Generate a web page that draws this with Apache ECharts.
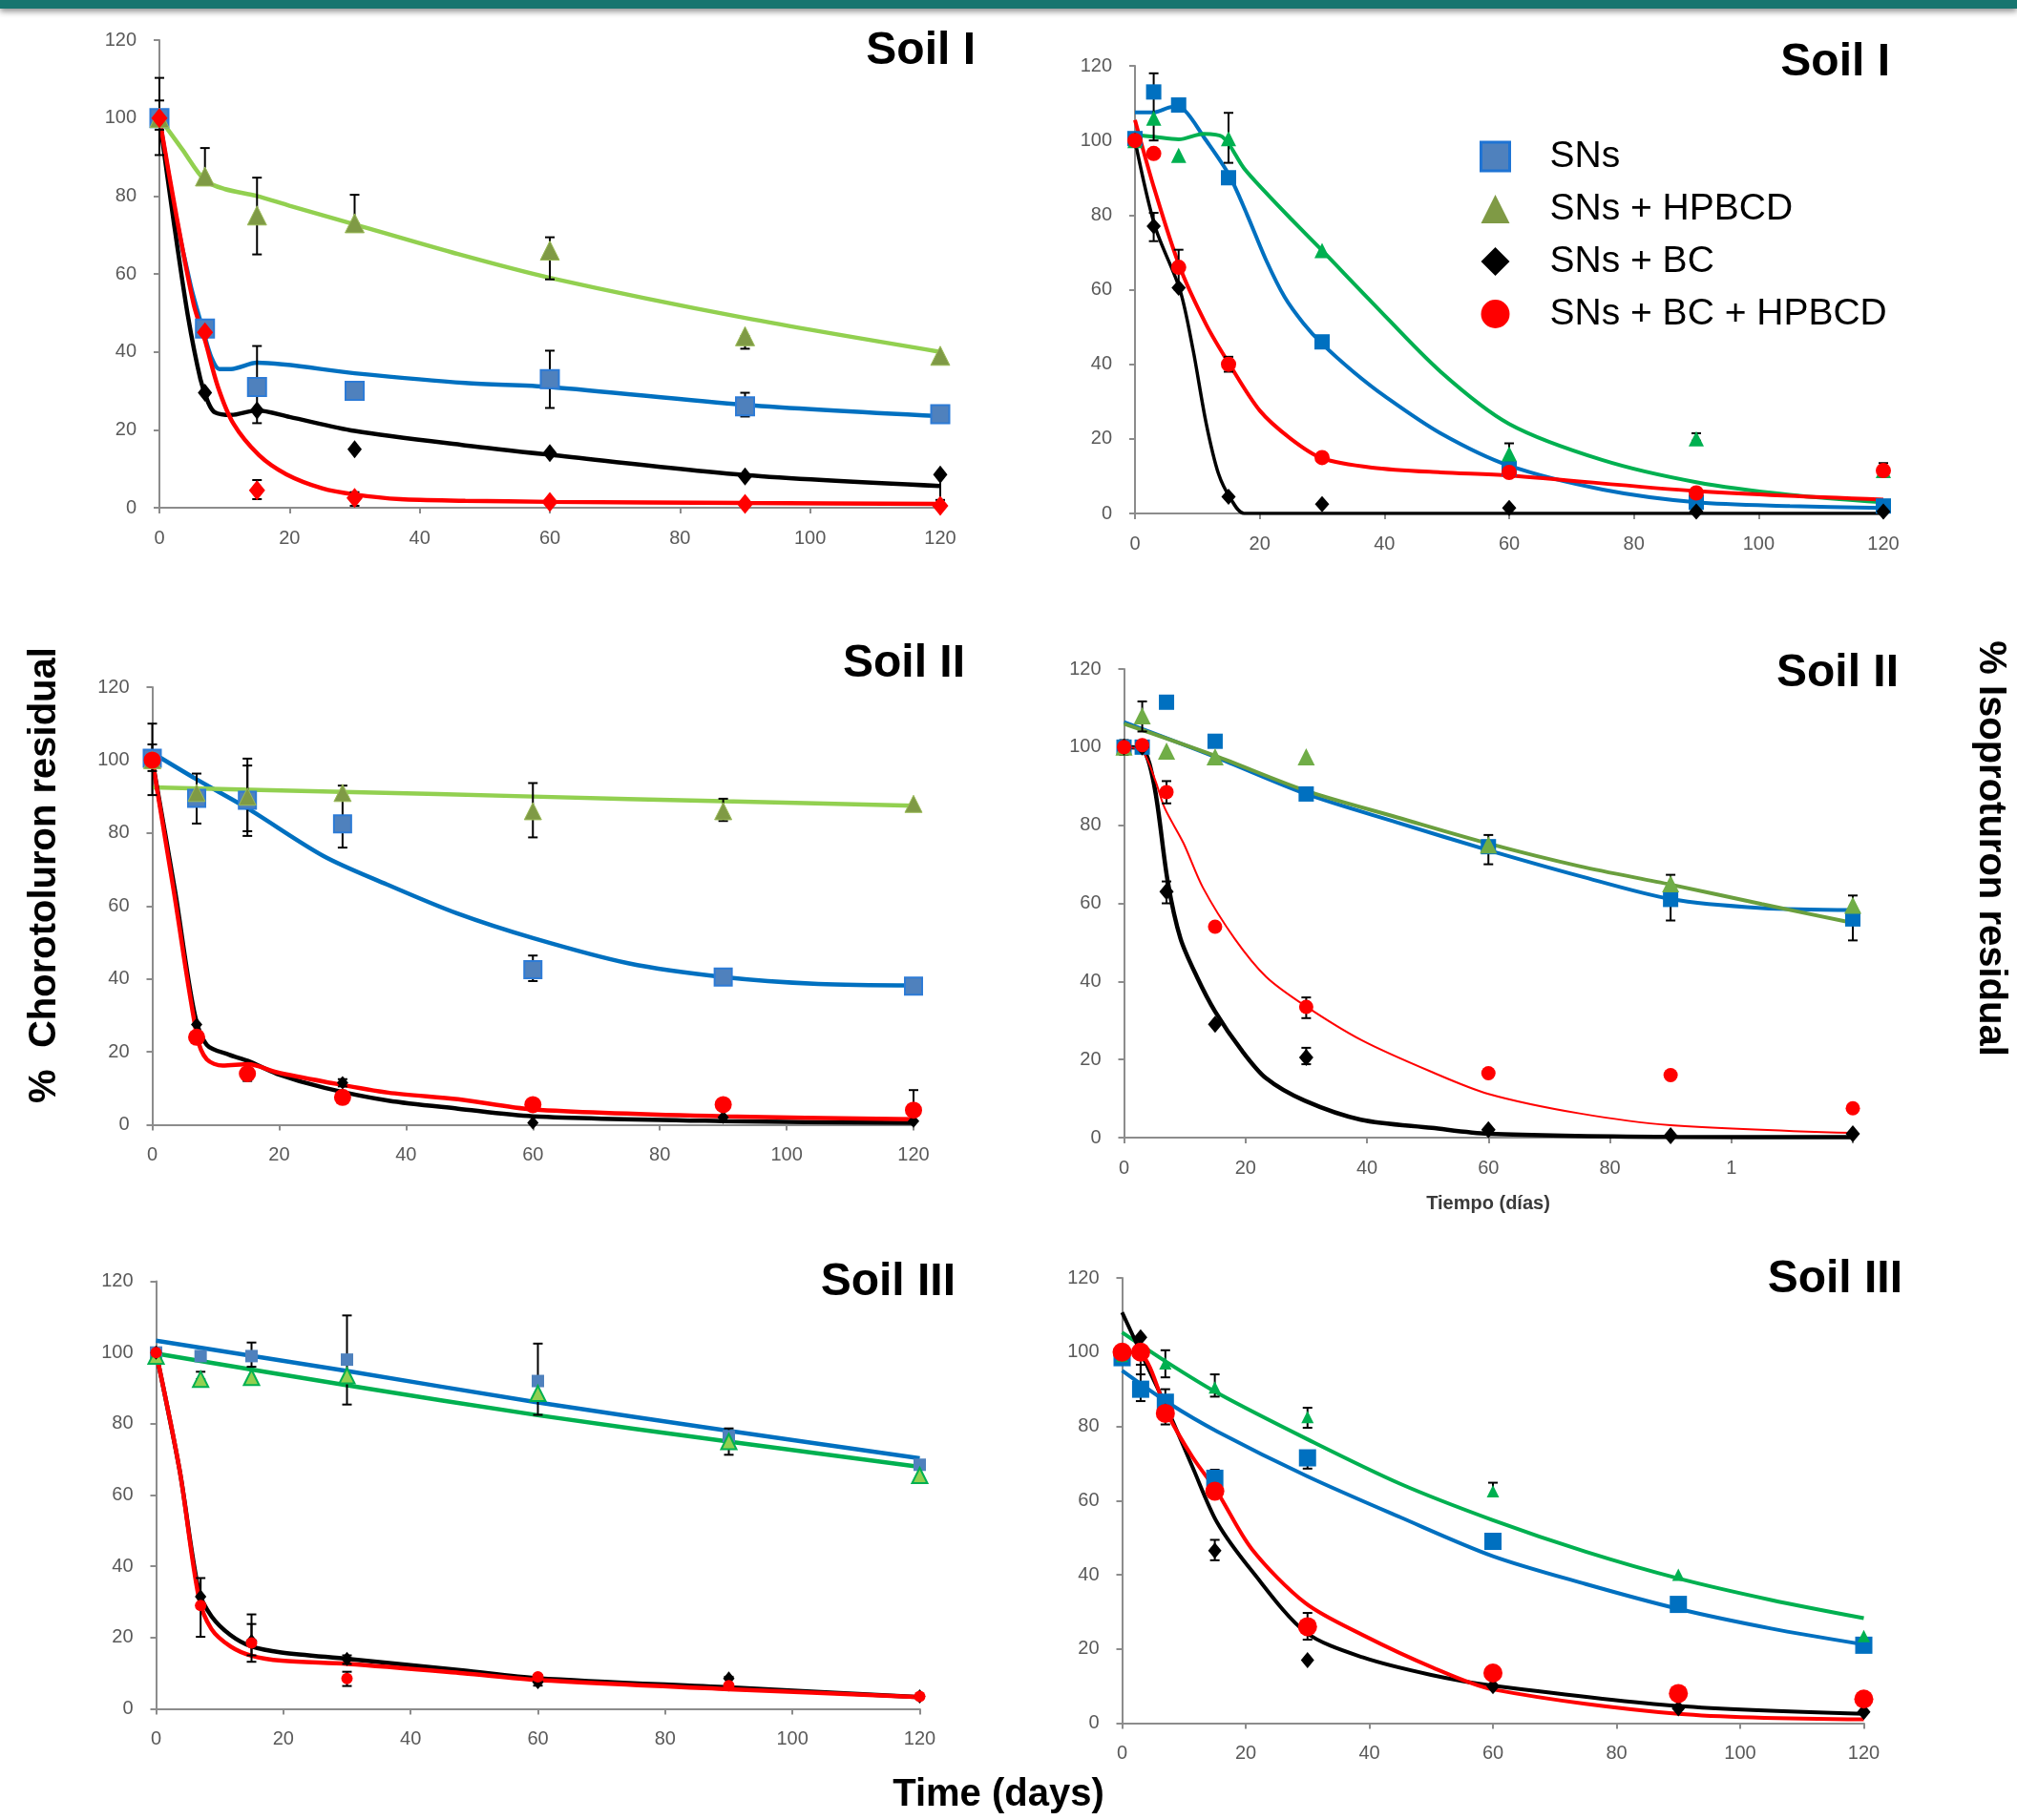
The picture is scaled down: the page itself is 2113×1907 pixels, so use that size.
<!DOCTYPE html>
<html>
<head>
<meta charset="utf-8">
<script src="https://cdn.jsdelivr.net/npm/echarts@6/dist/echarts.min.js"></script>
<style>
  html, body { margin: 0; padding: 0; background: #fff; }
  #chart { width: 2113px; height: 1907px; }
</style>
</head>
<body>
<div id="chart"></div>
<script>
// sampling days
const DAYS = [0, 7, 15, 30, 60, 90, 120];
const DAYS_ISO = [0, 3, 7, 15, 30, 60, 90, 120];

// ---- Chlorotoluron, Soil I ----
const cloI_sn   = [100, 46, 31, 30, 33, 26, 24];
const cloI_hp   = [100, 85, 75, 73, 66, 44, 39];
const cloI_bc   = [100, 29.5, 25, 15, 14, 8, 8.5];
const cloI_bchp = [100, 45, 4.5, 2.5, 1.5, 1, 0.5];
const cloI_snFit   = [[0,100],[2.4,76],[4.8,57],[6.8,45],[8,38.5],[9.2,35.6],[11,35.6],[15,37.2],[30,34.5],[47,32],[60,31],[90,26.4],[120,23.5]];
const cloI_hpFit   = [[0,100],[3.5,92],[7,84],[10,81.8],[15,80],[20,77.5],[30,72.7],[45,65.5],[60,59],[90,48.7],[120,40]];
const cloI_bcFit   = [[0,100],[2.15,74],[4.35,49.5],[6.3,33],[7.5,27],[8.5,24.5],[11,23.8],[15,25],[20,23.3],[30,19.7],[47,16],[60,13.6],[90,8.4],[120,5.6]];
const cloI_bchpFit = [[0,100],[2.6,75],[5.3,52],[7,43],[9,31],[11.4,21.5],[15.3,13.5],[19.5,8.6],[25,5],[30,3.4],[37,2.2],[47,1.8],[60,1.5],[90,1.2],[120,1]];
const cloI_err = [[0,90.5,110.3],[0,97,104.5],[7,85,92.3],[15,65,84.7],[15,21.7,41.5],[15,2.2,7.1],[30,73,80.3],[30,0.5,4],[60,58.6,69.4],[60,25.6,40.3],[90,40.8,44],[90,23.4,29.5],[120,2,8.4]];

// ---- Isoproturon, Soil I ----
const isoI_sn   = [100.5, 113, 109.5, 90, 46, 12, 3, 2];
const isoI_hp   = [100, 106, 96, 100.5, 70.5, 16, 20, 11.5];
const isoI_bc   = [100, 77, 60.5, 4.5, 2.5, 1.5, 0.5, 0.5];
const isoI_bchp = [100, 96.5, 66, 40, 15, 11, 5.5, 11.5];
const isoI_snFit   = [[0,107.5],[3,107.5],[6,109],[8,108],[11,101],[15,91],[18,80],[21,68],[24,58],[27,51],[30,45.5],[35,38],[40,31.5],[49,21.5],[60,12.8],[75,6.4],[90,3],[105,2],[120,1.5]];
const isoI_hpFit   = [[0,101.5],[3,101],[7,100.3],[11,101.8],[14,101],[17.5,92.5],[21,86],[25,79],[30,70.5],[38,56.6],[49,38],[60,24],[75,14.3],[90,8.4],[105,5],[120,3]];
const isoI_bcFit   = [[0,100],[3.2,77],[7.2,60],[9.3,44],[11.4,24.3],[13.4,10.6],[15.4,3.8],[17.5,0],[30,0],[60,0],[90,0],[120,0]];
const isoI_bchpFit = [[0,105.5],[3.2,86.5],[7.2,66],[11.4,50.7],[15,40.4],[20,27.6],[25,20],[30,14.8],[38,12.3],[49,11],[60,10.2],[90,6],[120,3.7]];
const isoI_err = [[3,100,118],[3,73,80.6],[7,60,70.7],[15,94,107.4],[15,38,42],[60,14,18.8],[90,19.5,21.5],[120,11,13.5]];

// ---- Chlorotoluron, Soil II ----
const cloII_sn   = [100.5, 89.5, 89, 82.5, 42.5, 40.5, 38];
const cloII_hp   = [100, 91, 90, 91, 86, 86, 88];
const cloII_bc   = [100, 27.5, 14, 11.5, 0.5, 2, 1];
const cloII_bchp = [100, 24, 14, 7.5, 5.5, 5.5, 4];
const cloII_snFit   = [[0,102],[7,94.7],[15,86.8],[27,73.7],[37,65.9],[48,58],[60,51.2],[75,44.3],[90,40.5],[105,38.6],[120,38.2]];
const cloII_hpFit   = [[0,92.5],[30,91.3],[60,90],[90,88.7],[120,87.5]];
const cloII_bcFit   = [[0,100],[3.6,64],[6.6,31],[8.6,21.9],[12.1,19.2],[15.1,17.5],[19.6,14],[27.2,10.1],[37.2,6.6],[48.2,4.4],[60,2.3],[90,1],[120,0.5]];
const cloII_bchpFit = [[0,100],[3.4,64],[7.1,24],[8.6,17.9],[11.1,16.2],[15.1,16.6],[19.6,14.4],[27.2,11.8],[37.2,8.8],[48.2,7],[60,4.2],[90,2.3],[120,1.5]];
const cloII_err = [[0,90.4,110],[0,97,104.3],[7,82.6,96.3],[15,79.2,100.4],[15,80.5,98.5],[30,76,93],[60,78.8,93.7],[60,39.4,46.4],[90,83.3,89.4],[120,1,9.5],[15,12,15.5],[30,10.5,12.5]];

// ---- Isoproturon, Soil II ----
const isoII_sn   = [100, 100, 111.5, 101.5, 88, 74.5, 61, 56];
const isoII_hp   = [100, 108, 99, 97.5, 97.5, 75, 65, 59.5];
const isoII_bc   = [100, 100, 63, 29, 20.5, 2, 0.5, 1];
const isoII_bchp = [100, 100.5, 88.5, 54, 33.5, 16.5, 16, 7.5];
const isoII_snFit   = [[0,106.4],[15,97.5],[30,88],[45,80.7],[60,73.6],[75,67],[90,61.1],[105,58.8],[120,58.3]];
const isoII_hpFit   = [[0,106],[15,97.8],[30,88.8],[45,82],[60,75.3],[75,69.5],[90,64.8],[105,59.8],[120,55]];
const isoII_bcFit   = [[0,100],[3,99.5],[5,90],[7.2,65.6],[9.3,51],[12,41.2],[15,32.3],[19.3,22.5],[23.4,15.2],[29.7,9.5],[39,4.6],[50.7,2.5],[60,1],[90,0.2],[120,0.1]];
const isoII_bchpFit = [[0,100],[3,99],[5.1,91.7],[6.7,84.4],[9.8,75.4],[13,64],[18.2,51],[23.4,41.2],[29.7,33.9],[39.2,24.9],[50.7,16.8],[60,11.2],[75,6.2],[90,3.2],[120,1.2]];
const isoII_err = [[0,98,101.8],[3,104,111.7],[7,60,65.6],[7,85.6,91.3],[15,100.4,103],[30,30.6,35.9],[30,18.8,23],[60,70,77.5],[90,55.6,67.3],[120,50.5,62]];

// ---- Chlorotoluron, Soil III ----
const cloIII_sn   = [100, 99, 99, 98, 92, 76.5, 68.5];
const cloIII_hp   = [99, 92.5, 93, 93.5, 88.5, 75, 65.5];
const cloIII_bc   = [100, 31.5, 19, 14, 7.5, 8.5, 3.5];
const cloIII_bchp = [100, 29, 18.5, 8.5, 9, 6.5, 3.5];
const cloIII_snFit   = [[0,103.3],[30,94.8],[60,86],[90,78],[120,70.3]];
const cloIII_hpFit   = [[0,99.7],[30,90.8],[60,82.4],[90,75],[120,67.9]];
const cloIII_bcFit   = [[0,100],[3.7,67],[6.7,33.2],[8.7,26],[11.7,20.7],[15,17.5],[19.7,15.8],[30.2,14],[48.2,10.8],[60,8.6],[90,6],[120,3.3]];
const cloIII_bchpFit = [[0,100],[3.7,67],[6.7,31.4],[8.7,22.4],[11.7,17.5],[15,14.9],[19.7,13.5],[30.2,12.6],[48.2,10],[60,8.1],[90,5.5],[120,3.3]];
const cloIII_err = [[7,20.2,36.7],[7,92.5,94.6],[15,13.2,26.5],[15,15,23.8],[15,96,102.8],[30,85.4,110.4],[30,12.6,15],[30,6.4,10.4],[60,82.5,102.5],[60,6.5,9.5],[90,71.3,78.7],[90,6,9]];

// ---- Isoproturon, Soil III ----
const isoIII_sn   = [98.5, 90, 86.5, 66, 71.5, 49, 32, 21];
const isoIII_hp   = [99, 100, 97, 90.5, 82.5, 62.5, 40, 23.5];
const isoIII_bc   = [100, 104, 84, 46.5, 17, 10, 4, 3];
const isoIII_bchp = [100, 100, 83.5, 62.5, 26, 13.5, 8, 6.5];
const isoIII_snFit   = [[0,95],[7.5,86.3],[15.4,78.6],[30,66.5],[45,55.5],[60,45],[75,37.5],[90,30.8],[105,25.5],[120,21.2]];
const isoIII_hpFit   = [[0,105.3],[7.5,97],[15.4,89],[30,76.5],[45,64.5],[60,54.7],[75,46.2],[90,39],[105,33.2],[120,28.3]];
const isoIII_bcFit   = [[0,110.7],[3,100],[7.5,84],[11.4,69],[15.4,54],[21,41],[29.7,24.5],[39,17.7],[50,13],[60,10.1],[90,4.6],[120,2.5]];
const isoIII_bchpFit = [[0,100],[3,99.5],[7.5,82.9],[11.4,71.7],[15.4,62.3],[21,46.9],[29.7,32.3],[39,23.7],[50.1,15.1],[60,9.1],[90,2.5],[120,1]];
const isoIII_err = [[3,86.8,96.6],[3,94,104],[7,93.2,100.5],[7,83.5,90],[7,80.5,86],[15,61,68.3],[15,43.9,49.4],[15,88,94],[30,68.6,73.4],[30,79.6,85],[30,22.5,29.7],[60,61.2,64.8]];

const NAMES = ['SNs', 'SNs + HPBCD', 'SNs + BC', 'SNs + BC + HPBCD'];

// -------------------------------------------------------------------------
// Panel layout / styles
// -------------------------------------------------------------------------
const BLUE = '#0070C0', RED = '#FF0000', BLACK = '#000000';

const PANELS = [
  { grid: { left: 167, top: 42, width: 818, height: 490 }, title: 'Soil I', titleAt: [1022, 54],
    days: DAYS, err: cloI_err,
    items: [
      { pts: cloI_sn,   fit: cloI_snFit,   line: BLUE,      lw: 4.5, sym: 'rect',     size: 19,       fill: '#4F81BD', border: '#2D7BD6', bw: 2 },
      { pts: cloI_hp,   fit: cloI_hpFit,   line: '#92D050', lw: 4.5, sym: 'triangle', size: 20,       fill: '#7F9A45', border: '#9BBB59', bw: 1 },
      { pts: cloI_bc,   fit: cloI_bcFit,   line: BLACK,     lw: 4.5, sym: 'diamond',  size: [15, 19], fill: BLACK },
      { pts: cloI_bchp, fit: cloI_bchpFit, line: RED,       lw: 4.5, sym: 'diamond',  size: [17, 21], fill: RED }
    ] },
  { grid: { left: 1189, top: 69, width: 784, height: 469 }, title: 'Soil I', titleAt: [1980, 66],
    days: DAYS_ISO, err: isoI_err,
    items: [
      { pts: isoI_sn,   fit: isoI_snFit,   line: BLUE,      lw: 4,   sym: 'rect',     size: 16,       fill: BLUE },
      { pts: isoI_hp,   fit: isoI_hpFit,   line: '#00B050', lw: 4,   sym: 'triangle', size: 16,       fill: '#00B050' },
      { pts: isoI_bc,   fit: isoI_bcFit,   line: BLACK,     lw: 3.5, sym: 'diamond',  size: [15, 17], fill: BLACK },
      { pts: isoI_bchp, fit: isoI_bchpFit, line: RED,       lw: 4,   sym: 'circle',   size: 16,       fill: RED }
    ] },
  { grid: { left: 159.5, top: 720, width: 797.5, height: 458.5 }, title: 'Soil II', titleAt: [1011, 696],
    days: DAYS, err: cloII_err,
    items: [
      { pts: cloII_sn,   fit: cloII_snFit,   line: BLUE,      lw: 4.5, sym: 'rect',     size: 18,       fill: '#4F81BD', border: '#2D7BD6', bw: 2 },
      { pts: cloII_hp,   fit: cloII_hpFit,   line: '#92D050', lw: 4.5, sym: 'triangle', size: 18,       fill: '#7F9A45', border: '#9BBB59', bw: 1 },
      { pts: cloII_bc,   fit: cloII_bcFit,   line: BLACK,     lw: 4.5, sym: 'diamond',  size: [12, 14], fill: BLACK },
      { pts: cloII_bchp, fit: cloII_bchpFit, line: RED,       lw: 4.5, sym: 'circle',   size: 18,       fill: RED }
    ] },
  { grid: { left: 1177.5, top: 701, width: 763.5, height: 491 }, title: 'Soil II', titleAt: [1989, 706],
    days: DAYS_ISO, err: isoII_err, clipLabels: true,
    items: [
      { pts: isoII_sn,   fit: isoII_snFit,   line: BLUE,      lw: 4,   sym: 'rect',     size: 16,       fill: BLUE },
      { pts: isoII_hp,   fit: isoII_hpFit,   line: '#6A9F3E', lw: 4,   sym: 'triangle', size: 18,       fill: '#70AD47' },
      { pts: isoII_bc,   fit: isoII_bcFit,   line: BLACK,     lw: 4.5, sym: 'diamond',  size: [15, 18], fill: BLACK },
      { pts: isoII_bchp, fit: isoII_bchpFit, line: RED,       lw: 2,   sym: 'circle',   size: 15,       fill: RED }
    ] },
  { grid: { left: 163.5, top: 1342.5, width: 800, height: 448 }, title: 'Soil III', titleAt: [1001, 1344],
    days: DAYS, err: cloIII_err,
    items: [
      { pts: cloIII_sn,   fit: cloIII_snFit,   line: BLUE,      lw: 4.5, sym: 'rect',     size: 13,       fill: '#4F81BD' },
      { pts: cloIII_hp,   fit: cloIII_hpFit,   line: '#00B050', lw: 4.5, sym: 'triangle', size: 16,       fill: '#92D050', border: '#00B050', bw: 2 },
      { pts: cloIII_bc,   fit: cloIII_bcFit,   line: BLACK,     lw: 4.5, sym: 'diamond',  size: [12, 15], fill: BLACK },
      { pts: cloIII_bchp, fit: cloIII_bchpFit, line: RED,       lw: 4.5, sym: 'circle',   size: 12,       fill: RED }
    ] },
  { grid: { left: 1175.5, top: 1339, width: 777, height: 466.5 }, title: 'Soil III', titleAt: [1993, 1341],
    days: DAYS_ISO, err: isoIII_err,
    items: [
      { pts: isoIII_sn,   fit: isoIII_snFit,   line: BLUE,      lw: 4,   sym: 'rect',     size: 18,       fill: BLUE },
      { pts: isoIII_hp,   fit: isoIII_hpFit,   line: '#00B050', lw: 4,   sym: 'triangle', size: 13,       fill: '#00B050' },
      { pts: isoIII_bc,   fit: isoIII_bcFit,   line: BLACK,     lw: 4,   sym: 'diamond',  size: [14, 17], fill: BLACK },
      { pts: isoIII_bchp, fit: isoIII_bchpFit, line: RED,       lw: 4,   sym: 'circle',   size: 20,       fill: RED }
    ] }
];

const AXIS_GRAY = '#8C8C8C';
const LABEL_STYLE = { color: '#595959', fontSize: 20, fontFamily: 'Liberation Sans' };

function errorBar(params, api) {
  const x = api.value(0);
  const lo = api.coord([x, api.value(1)]);
  const hi = api.coord([x, api.value(2)]);
  const cap = 5;
  const style = { stroke: '#000', lineWidth: 2 };
  return {
    type: 'group',
    children: [
      { type: 'line', shape: { x1: hi[0], y1: hi[1], x2: lo[0], y2: lo[1] }, style },
      { type: 'line', shape: { x1: hi[0] - cap, y1: hi[1], x2: hi[0] + cap, y2: hi[1] }, style },
      { type: 'line', shape: { x1: lo[0] - cap, y1: lo[1], x2: lo[0] + cap, y2: lo[1] }, style }
    ]
  };
}

const grids = [], xAxes = [], yAxes = [], series = [], graphics = [];

// top teal band
graphics.push({
  type: 'rect', shape: { x: 0, y: 0, width: 2113, height: 9 },
  style: { fill: '#17756F', shadowBlur: 6, shadowColor: 'rgba(0,0,0,0.45)', shadowOffsetY: 3 }
});

PANELS.forEach((p, i) => {
  grids.push(p.grid);
  xAxes.push({
    type: 'value', gridIndex: i, min: 0, max: 120, interval: 20,
    axisLine: { onZero: false, lineStyle: { color: AXIS_GRAY, width: 2 } },
    axisTick: { inside: false, length: 6, lineStyle: { color: AXIS_GRAY, width: 2 } },
    splitLine: { show: false },
    axisLabel: Object.assign({ margin: 22,
      formatter: p.clipLabels ? (v => v === 100 ? '1' : (v === 120 ? '' : String(v))) : (v => String(v)) }, LABEL_STYLE)
  });
  yAxes.push({
    type: 'value', gridIndex: i, min: 0, max: 120, interval: 20,
    axisLine: { show: true, lineStyle: { color: AXIS_GRAY, width: 2 } },
    axisTick: { show: true, inside: false, length: 6, lineStyle: { color: AXIS_GRAY, width: 2 } },
    splitLine: { show: false },
    axisLabel: Object.assign({ margin: 24 }, LABEL_STYLE)
  });

  // fitted curves
  p.items.forEach(it => {
    series.push({
      name: 'fit', type: 'line', xAxisIndex: i, yAxisIndex: i,
      data: it.fit, smooth: 0.3, showSymbol: false, silent: true,
      lineStyle: { color: it.line, width: it.lw }, z: 2
    });
  });

  // error bars
  series.push({
    name: 'err', type: 'custom', xAxisIndex: i, yAxisIndex: i,
    data: p.err, renderItem: errorBar, encode: { x: 0, y: [1, 2] }, silent: true, z: 3
  });

  // measured points
  p.items.forEach((it, k) => {
    series.push({
      name: NAMES[k], type: 'scatter', xAxisIndex: i, yAxisIndex: i,
      data: p.days.map((d, j) => [d, it.pts[j]]),
      symbol: it.sym, symbolSize: it.size,
      itemStyle: { color: it.fill, borderColor: it.border || it.fill, borderWidth: it.bw || 0, opacity: 1 },
      z: 4
    });
  });

  graphics.push({
    type: 'text', x: p.titleAt[0], y: p.titleAt[1],
    style: { text: p.title, fontSize: 48, fontWeight: 'bold', fontFamily: 'Liberation Sans',
             fill: '#000', align: 'right', verticalAlign: 'middle', textAlign: 'right', textVerticalAlign: 'middle' }
  });
});

// axis titles
const bigTitle = { fontSize: 40, fontWeight: 'bold', fontFamily: 'Liberation Sans', fill: '#000',
                   align: 'center', verticalAlign: 'middle', textAlign: 'center', textVerticalAlign: 'middle' };
graphics.push({ type: 'text', x: 47, y: 917, rotation: Math.PI / 2,
  style: Object.assign({ text: '%  Chorotoluron residual' }, bigTitle) });
graphics.push({ type: 'text', x: 2085, y: 889, rotation: -Math.PI / 2,
  style: Object.assign({ text: '% Isoproturon residual' }, bigTitle) });
graphics.push({ type: 'text', x: 1046, y: 1881,
  style: Object.assign({ text: 'Time (days)' }, bigTitle) });
graphics.push({ type: 'text', x: 1559, y: 1261,
  style: Object.assign({}, bigTitle, { text: 'Tiempo (días)', fontSize: 20, fill: '#3A3A3A' }) });

const chart = echarts.init(document.getElementById('chart'));
chart.setOption({
  backgroundColor: '#fff',
  animation: false,
  grid: grids,
  xAxis: xAxes,
  yAxis: yAxes,
  legend: {
    orient: 'vertical', left: 1545, top: 139,
    itemWidth: 30, itemHeight: 30, itemGap: 15, selectedMode: false,
    textStyle: { fontSize: 39, fontFamily: 'Liberation Sans', color: '#000', lineHeight: 40, padding: [0, 0, 0, 37] },
    data: [
      { name: NAMES[0], icon: 'rect',     itemStyle: { color: '#4F81BD', borderColor: '#1F74D4', borderWidth: 3 } },
      { name: NAMES[1], icon: 'triangle', itemStyle: { color: '#7F9A45', borderWidth: 0 } },
      { name: NAMES[2], icon: 'diamond',  itemStyle: { color: '#000', borderWidth: 0 } },
      { name: NAMES[3], icon: 'circle',   itemStyle: { color: '#FF0000', borderWidth: 0 } }
    ]
  },
  graphic: graphics,
  series: series
});
</script>
</body>
</html>
